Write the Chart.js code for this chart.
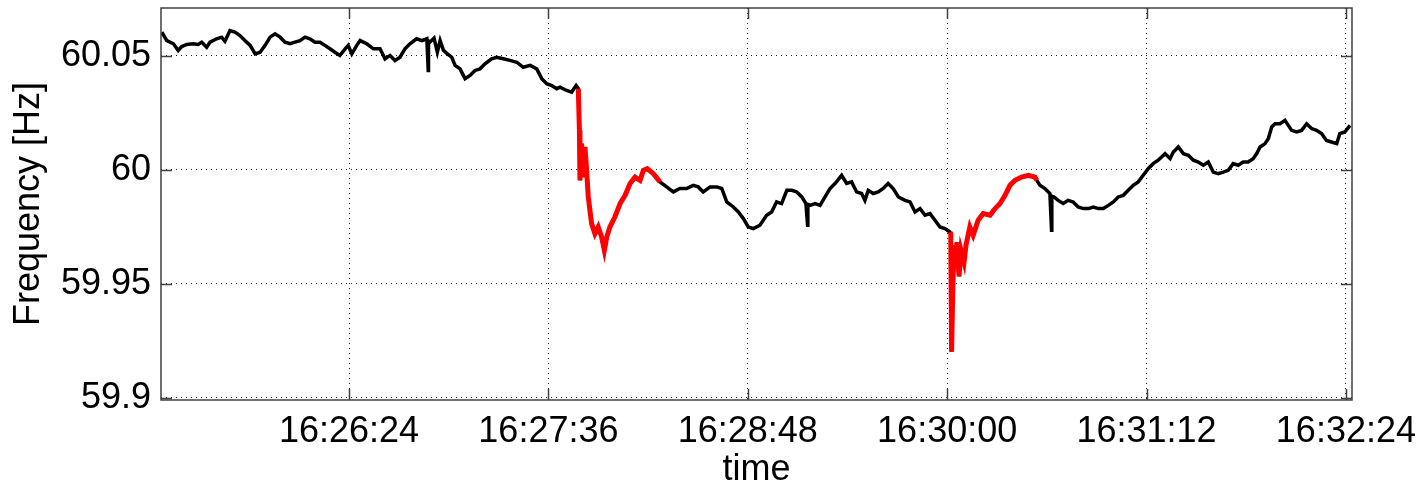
<!DOCTYPE html>
<html>
<head>
<meta charset="utf-8">
<script src="https://cdn.jsdelivr.net/npm/chart.js@4.4.1/dist/chart.umd.min.js"></script>
<style>
  html, body { margin: 0; padding: 0; background: #fff; }
  #wrap { width: 1420px; height: 489px; }
</style>
</head>
<body>
<div id="wrap"><canvas id="freqChart" width="1420" height="489"></canvas></div>
<script>
// =========================
// DATA (time = seconds after 16:25:00)
// =========================
const times = [
    16.4, 18.2, 20.6, 22.3, 23.6, 25.4, 27.7, 29.5, 30.8, 32.6, 33.8, 36.2, 38.0, 39.2, 41.0, 42.8,
    44.6, 46.4, 48.3, 50.1, 51.9, 53.7, 55.5, 57.3, 59.1, 60.9, 62.7, 64.5, 66.3, 68.1, 69.9, 71.7,
    73.5, 75.3, 77.1, 78.9, 80.7, 82.6, 83.7, 85.0, 86.8, 88.0, 90.4, 92.8, 95.2, 97.0, 98.8, 100.6,
    102.4, 104.2, 106.0, 108.4, 110.3, 112.1, 112.6, 112.7, 113.2, 114.7, 115.9, 116.9, 118.1, 119.5,
    121.1, 122.3, 124.1, 125.9, 127.7, 129.5, 131.3, 133.1, 135.5, 137.3, 139.7, 142.1, 144.6, 146.9,
    149.4, 151.8, 153.6, 155.4, 157.2, 159.0, 160.2, 162.6, 164.4, 166.0, 166.8,
    167.2, 167.4, 168.0, 168.6, 169.2, 169.8, 170.4, 171.6, 172.8, 174.0, 175.2, 176.2, 177.1, 178.2,
    180.0, 181.9, 183.7, 185.5, 187.3, 189.1, 190.3, 191.7, 193.9, 196.3,
    198.7, 201.1, 203.5, 205.9, 208.3, 210.1, 211.9, 214.4, 216.8, 218.6, 220.4, 222.8, 224.6, 226.4,
    228.2, 230.0, 232.4, 234.8, 236.6, 238.4, 240.2, 242.1, 243.9, 245.7, 247.5, 249.0, 249.6, 249.7,
    250.5, 252.3, 254.1, 255.9, 257.7, 259.5, 261.9, 263.7, 265.5, 267.3, 269.1, 270.3, 271.5, 273.3,
    275.1, 276.9, 278.7, 280.5, 282.4, 284.8, 286.6, 288.4, 290.2, 292.0, 293.8, 295.6, 297.4, 299.2, 301.0,
    301.3, 301.6, 302.0, 302.5, 303.0, 303.5, 304.3, 305.0, 306.1, 306.8, 308.2, 309.4, 311.2, 313.0,
    315.5, 317.3, 319.1, 320.9, 322.7, 324.5, 326.9, 329.3, 331.7, 332.4,
    333.5, 335.3, 337.1, 337.7, 337.8, 338.6, 340.1, 341.9, 343.7, 345.5, 347.3, 349.2, 351.0, 352.8,
    354.6, 356.4, 358.2, 360.0, 361.8, 363.6, 365.4, 367.2, 369.0, 370.8, 372.6, 374.4, 376.2, 378.7,
    380.5, 381.7, 383.5, 385.3, 387.1, 388.9, 390.7, 392.5, 394.3, 396.1, 397.9, 399.7, 401.5, 403.3,
    405.1, 406.9, 408.7, 410.5, 411.8, 413.0, 414.8, 416.0, 417.2, 418.4, 420.2, 422.0, 423.2, 424.4,
    426.2, 428.0, 429.8, 431.6, 433.4, 435.2, 437.0, 438.8, 440.7, 441.8, 443.6, 445.5
];

const freq = [
    60.0604, 60.0567, 60.0553, 60.0524, 60.0541, 60.0550, 60.0553, 60.0550, 60.0560, 60.0538, 60.0560, 60.0575, 60.0582, 60.0564, 60.0611, 60.0604,
    60.0589, 60.0567, 60.0546, 60.0509, 60.0516, 60.0546, 60.0582, 60.0597, 60.0582, 60.0560, 60.0553, 60.0560, 60.0567, 60.0582, 60.0575, 60.0560,
    60.0560, 60.0546, 60.0531, 60.0516, 60.0502, 60.0531, 60.0546, 60.0509, 60.0546, 60.0567, 60.0553, 60.0531, 60.0531, 60.0487, 60.0502, 60.0480,
    60.0494, 60.0531, 60.0553, 60.0575, 60.0567, 60.0575, 60.0436, 60.0565, 60.0560, 60.0578, 60.0516, 60.0567, 60.0524, 60.0509,
    60.0494, 60.0458, 60.0443, 60.0400, 60.0414, 60.0436, 60.0443, 60.0465, 60.0487, 60.0494, 60.0487, 60.0480, 60.0472, 60.0450,
    60.0458, 60.0443, 60.0400, 60.0378, 60.0370, 60.0356, 60.0363, 60.0348, 60.0341, 60.0370, 60.0356,
    60.0173, 59.9954, 60.0115, 59.9968, 60.0100, 59.9998, 59.9881, 59.9764, 59.9720, 59.9749, 59.9706, 59.9647, 59.9706, 59.9749,
    59.9793, 59.9852, 59.9888, 59.9940, 59.9968, 59.9954, 59.9998, 60.0005, 59.9983, 59.9947,
    59.9925, 59.9903, 59.9918, 59.9918, 59.9932, 59.9925, 59.9903, 59.9925, 59.9925, 59.9918, 59.9859, 59.9837, 59.9815, 59.9786,
    59.9749, 59.9742, 59.9757, 59.9801, 59.9815, 59.9859, 59.9852, 59.9910, 59.9910, 59.9903, 59.9881, 59.9852, 59.9757, 59.9848,
    59.9844, 59.9852, 59.9844, 59.9881, 59.9918, 59.9940, 59.9976, 59.9940, 59.9947, 59.9903, 59.9896, 59.9866, 59.9910, 59.9896,
    59.9903, 59.9918, 59.9940, 59.9918, 59.9881, 59.9866, 59.9859, 59.9815, 59.9830, 59.9801, 59.9808, 59.9779, 59.9749, 59.9742, 59.9727,
    59.9720, 59.9202, 59.9458, 59.9669, 59.9582, 59.9682, 59.9533, 59.9647, 59.9595, 59.9669, 59.9749, 59.9713, 59.9779, 59.9808,
    59.9801, 59.9830, 59.9852, 59.9888, 59.9932, 59.9954, 59.9968, 59.9976, 59.9968, 59.9954,
    59.9932, 59.9918, 59.9896, 59.9735, 59.9885, 59.9881, 59.9866, 59.9852, 59.9866, 59.9859, 59.9837, 59.9830, 59.9830, 59.9837,
    59.9830, 59.9830, 59.9844, 59.9859, 59.9881, 59.9888, 59.9910, 59.9932, 59.9947, 59.9976, 60.0005, 60.0027, 60.0042, 60.0071,
    60.0049, 60.0078, 60.0100, 60.0071, 60.0064, 60.0042, 60.0034, 60.0020, 60.0034, 59.9990, 59.9983, 59.9990, 59.9998, 60.0027,
    60.0020, 60.0034, 60.0034, 60.0049, 60.0071, 60.0100, 60.0115, 60.0137, 60.0188, 60.0202, 60.0202, 60.0217, 60.0195, 60.0173,
    60.0166, 60.0173, 60.0202, 60.0181, 60.0173, 60.0159, 60.0129, 60.0122, 60.0115, 60.0159, 60.0166, 60.0195
];

// highlighted (red) stretches, in seconds after 16:25:00
const redWindows = [[166.8, 196.3], [301.0, 332.4]];

const xTickValues = [84, 156, 228, 300, 372, 444];
const xTickLabels = ["16:26:24", "16:27:36", "16:28:48", "16:30:00", "16:31:12", "16:32:24"];
const yTickValues = [59.9, 59.95, 60, 60.05];
const yTickLabels = ["59.9", "59.95", "60", "60.05"];

const xRange = [16.1, 446.2];
const yRange = [59.899, 60.071];

// =========================
// CHART
// =========================
const fontFamily = "'Liberation Sans', Arial, Helvetica, sans-serif";

const allPoints = times.map((t, i) => ({ x: t, y: freq[i] }));
const redSets = redWindows.map(w => ({
    data: allPoints.filter(p => p.x >= w[0] && p.x <= w[1]),
    borderColor: "#ff0000",
    borderWidth: 5,
    pointRadius: 0,
    tension: 0,
    order: 0
}));

// MATLAB-like box with inward tick marks
const axesFrame = {
    id: "axesFrame",
    afterDraw(chart) {
        const { ctx, chartArea: a, scales } = chart;
        const len = 11;
        ctx.save();
        ctx.strokeStyle = "#404040";
        ctx.lineWidth = 1.5;
        ctx.strokeRect(a.left, a.top, a.right - a.left, a.bottom - a.top);
        ctx.beginPath();
        scales.x.ticks.forEach(t => {
            const px = Math.round(scales.x.getPixelForValue(t.value)) + 0.5;
            ctx.moveTo(px, a.bottom); ctx.lineTo(px, a.bottom - len);
            ctx.moveTo(px, a.top); ctx.lineTo(px, a.top + len);
        });
        scales.y.ticks.forEach(t => {
            const py = Math.round(scales.y.getPixelForValue(t.value)) + 0.5;
            ctx.moveTo(a.left, py); ctx.lineTo(a.left + len, py);
            ctx.moveTo(a.right, py); ctx.lineTo(a.right - len, py);
        });
        ctx.stroke();
        ctx.restore();
    }
};

new Chart(document.getElementById("freqChart"), {
    type: "line",
    data: {
        datasets: [
            ...redSets,
            {
                data: allPoints,
                borderColor: "#000000",
                borderWidth: 3.5,
                pointRadius: 0,
                tension: 0,
                order: 1
            }
        ]
    },
    options: {
        responsive: false,
        animation: false,
        devicePixelRatio: 1,
        layout: { padding: { top: 8, right: 68, left: 0, bottom: 0 } },
        plugins: { legend: { display: false }, tooltip: { enabled: false } },
        scales: {
            x: {
                type: "linear",
                min: xRange[0],
                max: xRange[1],
                afterBuildTicks: s => { s.ticks = xTickValues.map(v => ({ value: v })); },
                afterFit: s => { s.height = 89; s.paddingLeft = 0; s.paddingRight = 0; },
                ticks: {
                    autoSkip: false,
                    maxRotation: 0,
                    padding: 10,
                    color: "#000",
                    font: { family: fontFamily, size: 36 },
                    callback: v => xTickLabels[xTickValues.indexOf(v)]
                },
                grid: { color: "#222", lineWidth: 1, drawTicks: false },
                border: { display: false, dash: [1, 4] },
                title: {
                    display: true,
                    text: "time",
                    color: "#000",
                    font: { family: fontFamily, size: 36 },
                    padding: { top: -3, bottom: -3 }
                }
            },
            y: {
                min: yRange[0],
                max: yRange[1],
                afterBuildTicks: s => { s.ticks = yTickValues.map(v => ({ value: v })); },
                afterFit: s => { s.width = 161; s.paddingTop = 0; s.paddingBottom = 0; },
                ticks: {
                    padding: 10,
                    color: "#000",
                    font: { family: fontFamily, size: 36 },
                    callback: v => yTickLabels[yTickValues.indexOf(v)]
                },
                grid: { color: "#222", lineWidth: 1, drawTicks: false },
                border: { display: false, dash: [1, 4] },
                title: {
                    display: true,
                    text: "Frequency [Hz]",
                    color: "#000",
                    font: { family: fontFamily, size: 36 },
                    padding: { top: 7, bottom: 0 }
                }
            }
        }
    },
    plugins: [axesFrame]
});
</script>
</body>
</html>
